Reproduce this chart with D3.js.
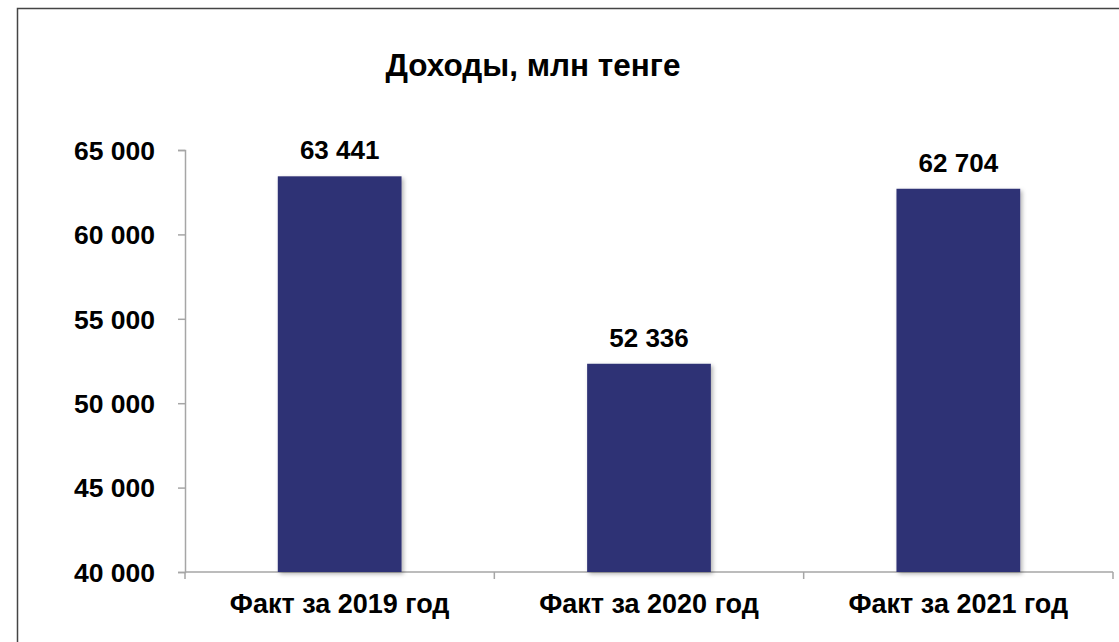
<!DOCTYPE html>
<html>
<head>
<meta charset="utf-8">
<script src="https://cdn.jsdelivr.net/npm/d3@7"></script>
<style>
  body { margin: 0; background: #fff; }
  svg { display: block; font-family: Arial, "Liberation Sans", sans-serif; }
</style>
</head>
<body>
<script>
const width = 1119;
const height = 642;

// data
const categories = ["Факт за 2019 год", "Факт за 2020 год", "Факт за 2021 год"];
const values = [63441, 52336, 62704];
const yTicks = [40000, 45000, 50000, 55000, 60000, 65000];
const title = "Доходы, млн тенге";

const plot = { left: 185, right: 1113, top: 150, bottom: 572 };

const svg = d3.select("body")
  .append("svg")
    .attr("width", width)
    .attr("height", height);

// shadow for bars
const defs = svg.append("defs");
const f = defs.append("filter").attr("id", "shadow")
  .attr("x", "-10%").attr("y", "-10%").attr("width", "130%").attr("height", "130%");
f.append("feDropShadow")
  .attr("dx", 2).attr("dy", 2)
  .attr("stdDeviation", 2)
  .attr("flood-color", "#000")
  .attr("flood-opacity", 0.3);

// chart border
svg.append("rect")
  .attr("x", 17.5).attr("y", 8.5)
  .attr("width", width + 20).attr("height", height + 20)
  .attr("fill", "none")
  .attr("stroke", "#444")
  .attr("stroke-width", 1.5);

let x = d3.scaleBand()
  .domain(categories)
  .range([plot.left, plot.right])
  .paddingInner(0.6)
  .paddingOuter(0.3);

let xEdge = d3.scaleBand()
  .domain(categories)
  .range([plot.left, plot.right]);

let y = d3.scaleLinear()
  .domain([40000, 65000])
  .range([plot.bottom, plot.top]);

const fmt = d => d3.format(",")(d).replace(/,/g, " ");

// y axis
const yAxis = svg.append("g")
  .attr("transform", "translate(" + plot.left + ",0)")
  .call(d3.axisLeft(y).tickValues(yTicks).tickSize(7).tickPadding(23).tickFormat(fmt));

yAxis.select(".domain").attr("stroke", "#a6a6a6").attr("stroke-width", 1.5);
yAxis.selectAll(".tick line").attr("stroke", "#a6a6a6").attr("stroke-width", 1.5);
yAxis.selectAll(".tick text")
  .attr("fill", "#000")
  .style("font-size", "26.5px")
  .style("font-weight", "bold")
  .attr("dy", "0.35em");

// x axis line + boundary ticks
svg.append("line")
  .attr("x1", plot.left).attr("x2", plot.right)
  .attr("y1", plot.bottom).attr("y2", plot.bottom)
  .attr("stroke", "#a6a6a6").attr("stroke-width", 1.5);

const edges = categories.map(c => xEdge(c)).concat([plot.right]);
svg.selectAll(".xtick")
  .data(edges)
  .enter()
  .append("line")
    .attr("class", "xtick")
    .attr("x1", d => d).attr("x2", d => d)
    .attr("y1", plot.bottom).attr("y2", plot.bottom + 7)
    .attr("stroke", "#a6a6a6").attr("stroke-width", 1.5);

// bars
svg.selectAll(".bar")
  .data(values)
  .enter()
  .append("rect")
    .attr("class", "bar")
    .attr("x", (d, i) => x(categories[i]))
    .attr("y", d => y(d))
    .attr("width", x.bandwidth())
    .attr("height", d => plot.bottom - y(d))
    .attr("fill", "#2e3174")
    .attr("filter", "url(#shadow)");

// value labels
svg.selectAll(".val")
  .data(values)
  .enter()
  .append("text")
    .attr("class", "val")
    .attr("x", (d, i) => x(categories[i]) + x.bandwidth() / 2)
    .attr("y", d => y(d) - 17)
    .attr("text-anchor", "middle")
    .style("font-size", "26px")
    .style("font-weight", "bold")
    .text(fmt);

// category labels
svg.selectAll(".cat")
  .data(categories)
  .enter()
  .append("text")
    .attr("class", "cat")
    .attr("x", d => x(d) + x.bandwidth() / 2)
    .attr("y", 613)
    .attr("text-anchor", "middle")
    .style("font-size", "27px")
    .style("font-weight", "bold")
    .text(d => d);

// title
svg.append("text")
  .attr("x", 533)
  .attr("y", 76)
  .attr("text-anchor", "middle")
  .style("font-size", "31.5px")
  .style("font-weight", "bold")
  .text(title);
</script>
</body>
</html>
